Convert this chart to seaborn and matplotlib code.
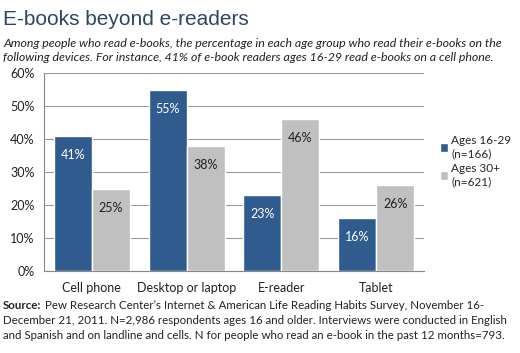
import pandas as pd
import matplotlib.pyplot as plt
import seaborn as sns

# Chart data
devices = ['Cell phone', 'Desktop or laptop', 'E-reader', 'Tablet']
ages_16_29 = [41, 55, 23, 16]
ages_30_plus = [25, 38, 46, 26]
groups = ['Ages 16-29\n(n=166)', 'Ages 30+\n(n=621)']
yticks = [0, 10, 20, 30, 40, 50, 60]

df = pd.DataFrame({
    'device': devices * 2,
    'pct': ages_16_29 + ages_30_plus,
    'group': [groups[0]] * 4 + [groups[1]] * 4,
})

sns.set_style('white')
plt.rcParams['font.family'] = ['Lato', 'DejaVu Sans']

blue = '#2f5b8f'
gray = '#c0c0c0'
txt = '#222222'

fig = plt.figure(figsize=(5.2, 3.53), dpi=100)
ax = fig.add_axes([0.085, 0.232, 0.73, 0.561])

sns.barplot(data=df, x='device', y='pct', hue='group', palette=[blue, gray],
            width=0.8, saturation=1, ax=ax, zorder=3, legend=True)

ax.set_ylim(0, 60)
ax.set_yticks(yticks)
ax.set_yticklabels([f'{t}%' for t in yticks], fontsize=9, color=txt)
ax.set_xlabel('')
ax.set_ylabel('')
ax.tick_params(axis='x', labelsize=9, length=0, pad=8, colors=txt)
ax.tick_params(axis='y', length=4, direction='out', color='#888888', pad=3)
ax.yaxis.grid(True, color='#999999', linewidth=0.8, zorder=0)
for s in ['top', 'right']:
    ax.spines[s].set_visible(False)
ax.spines['left'].set_color('#888888')
ax.spines['bottom'].set_color('#888888')

# value labels inside bar tops
for i, cont in enumerate(ax.containers):
    col = 'white' if i == 0 else txt
    ax.bar_label(cont, labels=[f'{v:.0f}%' for v in cont.datavalues],
                 label_type='edge', padding=-18, color=col, fontsize=9)

ax.legend(loc='upper left', bbox_to_anchor=(1.015, 0.74), frameon=False,
          fontsize=8.5, handlelength=0.7, handleheight=0.7,
          handletextpad=0.25, labelspacing=0.35)

fig.text(0.006, 0.93, 'E-books beyond e-readers', fontsize=15,
         color='#2c4664', family=['Liberation Sans', 'DejaVu Sans'])

fs_sub = 8.9
fig.text(0.006, 0.866, 'Among people who read e-books, the percentage in each age group who read their e-books on the',
         fontsize=fs_sub, style='italic', color=txt)
fig.text(0.006, 0.826, 'following devices. For instance, 41% of e-book readers ages 16-29 read e-books on a cell phone.',
         fontsize=fs_sub, style='italic', color=txt)

fs = 8.3
src_y = 0.125
fig.text(0.006, src_y, 'Source:', fontsize=fs, weight='bold', color=txt)
fig.text(0.086, src_y, 'Pew Research Center\u2019s Internet & American Life Reading Habits Survey, November 16-',
         fontsize=fs, color=txt)
fig.text(0.006, src_y - 0.042, 'December 21, 2011. N=2,986 respondents ages 16 and older. Interviews were conducted in English',
         fontsize=fs, color=txt)
fig.text(0.006, src_y - 0.084, 'and Spanish and on landline and cells. N for people who read an e-book in the past 12 months=793.',
         fontsize=fs, color=txt)

fig.savefig('out.png', dpi=100)
